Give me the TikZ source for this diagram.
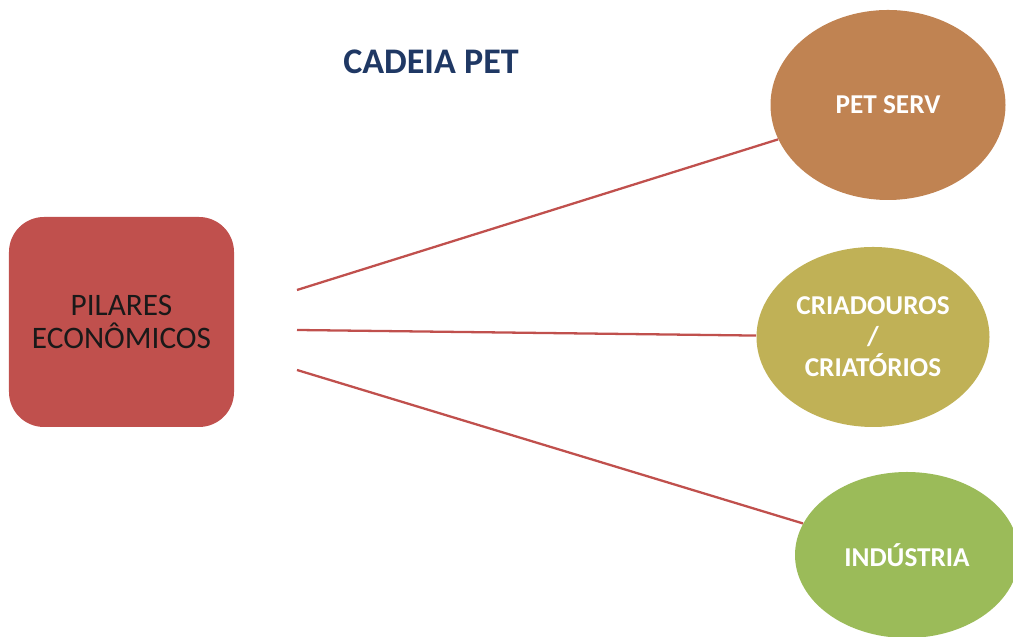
\documentclass[tikz,border=0pt]{standalone}
\usepackage{fontspec}
\setmainfont{Carlito}
\usetikzlibrary{shapes.geometric}
\definecolor{pilarred}{RGB}{192, 80, 77}
\definecolor{servbrown}{RGB}{192, 131, 82}
\definecolor{criaolive}{RGB}{192, 177, 86}
\definecolor{indgreen}{RGB}{155, 187, 89}
\definecolor{titleblue}{RGB}{31, 56, 100}
\definecolor{textdark}{RGB}{25, 25, 25}

\begin{document}
\begin{tikzpicture}[
        pilar/.style={rectangle, rounded corners=0.7cm, fill=pilarred, minimum width=4.5cm, minimum height=4.2cm, text=textdark, align=center, font=\fontsize{17.8}{18.5}\selectfont},
        branch/.style={ellipse, inner sep=0pt, text=white, align=center, font=\fontsize{15.5}{17.6}\selectfont\bfseries},
        link/.style={line width=1.3pt, color=pilarred}
    ]
    \useasboundingbox (0,0) rectangle (20.26,12.74);

    % Title
    \node[text=titleblue, font=\fontsize{20.5}{24}\selectfont\bfseries] (title) at (8.62, 11.5) {CADEIA PET};

    % Main block
    \node[pilar] (pilares) at (2.43, 6.30) {PILARES\\ECONÔMICOS};

    % Branches
    \node[branch, fill=servbrown, minimum width=4.7cm, minimum height=3.8cm] (petserv) at (17.76, 10.64) {PET SERV};
    \node[branch, fill=criaolive, minimum width=4.66cm, minimum height=3.6cm] (criadouros) at (17.46, 6.0) {CRIADOUROS\\/\\CRIATÓRIOS};
    \node[branch, fill=indgreen, minimum width=4.48cm, minimum height=3.32cm] (industria) at (18.14, 1.64) {INDÚSTRIA};

    % Links (free ends right of the block)
    \coordinate (s1) at (5.94, 6.94);
    \coordinate (s2) at (5.94, 6.14);
    \coordinate (s3) at (5.94, 5.34);
    \draw[link] (s1) -- (petserv);
    \draw[link] (s2) -- (criadouros);
    \draw[link] (s3) -- (industria);

\end{tikzpicture}
\end{document}
